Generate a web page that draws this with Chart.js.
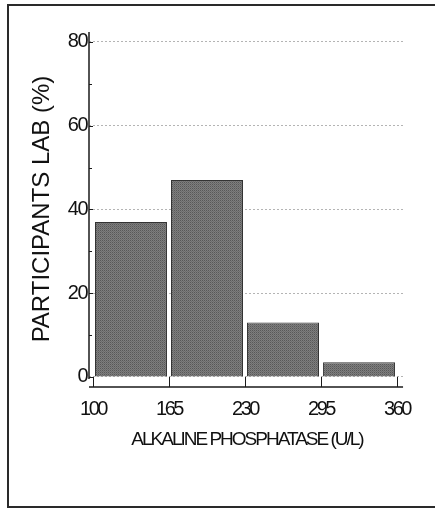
<!DOCTYPE html>
<html>
<head>
<meta charset="utf-8">
<script src="https://cdn.jsdelivr.net/npm/chart.js@4.4.1/dist/chart.umd.min.js"></script>
<style>
  html, body { margin: 0; padding: 0; background: #fff; }
  #wrap { width: 435px; height: 511px; position: relative; }
</style>
</head>
<body>
<div id="wrap"><canvas id="c" width="435" height="511"></canvas></div>
<script>
// ---- data ----
const binEdges = [100, 165, 230, 295, 360];
const percentValues = [37, 47, 13, 3.5];
const xTickValues = [100, 165, 230, 295, 360];
const yTickValues = [0, 20, 40, 60, 80];
const yMinorTickValues = [10, 30, 50, 70];
const xTitle = 'ALKALINE PHOSPHATASE (U/L)';
const yTitle = 'PARTICIPANTS LAB (%)';

const barPoints = percentValues.map((v, i) => ({ x: (binEdges[i] + binEdges[i + 1]) / 2, y: v }));

// stippled grey fill
function makePattern() {
  const p = document.createElement('canvas');
  p.width = 2; p.height = 2;
  const g = p.getContext('2d');
  g.fillStyle = '#7e7e7e'; g.fillRect(0, 0, 2, 2);
  g.fillStyle = '#585858'; g.fillRect(0, 0, 1, 1);
  g.fillStyle = '#6c6c6c'; g.fillRect(1, 1, 1, 1);
  return g.createPattern(p, 'repeat');
}

const sans = "'Liberation Sans', Arial, sans-serif";

// per-scale letter spacing for labels and title
function patchSpacing(scale, labelSpacing, titleSpacing) {
  if (scale._spacingPatched) return;
  scale._spacingPatched = true;
  const dl = scale.drawLabels, dt = scale.drawTitle;
  scale.drawLabels = function (a) {
    const c = this.ctx; c.save(); c.letterSpacing = labelSpacing; dl.call(this, a); c.restore();
  };
  scale.drawTitle = function (a) {
    const c = this.ctx; c.save(); c.letterSpacing = titleSpacing; dt.call(this, a); c.restore();
  };
}

const framePlugin = {
  id: 'frame',
  beforeDraw(chart) {
    const ctx = chart.ctx;
    ctx.save();
    ctx.fillStyle = '#ffffff';
    ctx.fillRect(0, 0, chart.width, chart.height);
    ctx.strokeStyle = '#2a2a2a';
    ctx.lineWidth = 2;
    ctx.strokeRect(8, 5, chart.width + 20, 502);
    ctx.restore();
  }
};

const axesPlugin = {
  id: 'axesLines',
  afterDatasetsDraw(chart) {
    const ctx = chart.ctx;
    const xs = chart.scales.x, ys = chart.scales.y;
    const ca = chart.chartArea;
    const y0 = ys.getPixelForValue(0);
    ctx.save();
    ctx.strokeStyle = '#1a1a1a';
    ctx.lineWidth = 1.5;
    // y axis line
    ctx.beginPath();
    ctx.moveTo(ca.left, ca.top + 1);
    ctx.lineTo(ca.left, y0 + 2);
    ctx.stroke();
    // y ticks (inward)
    ctx.lineWidth = 1;
    yTickValues.forEach(v => {
      const py = Math.round(ys.getPixelForValue(v)) + 0.5;
      ctx.beginPath(); ctx.moveTo(ca.left, py); ctx.lineTo(ca.left + 4, py); ctx.stroke();
    });
    yMinorTickValues.forEach(v => {
      const py = Math.round(ys.getPixelForValue(v)) + 0.5;
      ctx.beginPath(); ctx.moveTo(ca.left, py); ctx.lineTo(ca.left + 3, py); ctx.stroke();
    });
    // x axis line
    ctx.lineWidth = 1.5;
    ctx.beginPath();
    ctx.moveTo(ca.left, ca.bottom);
    ctx.lineTo(xs.getPixelForValue(360) + 6, ca.bottom);
    ctx.stroke();
    // x ticks (upward)
    ctx.lineWidth = 1;
    xTickValues.forEach(v => {
      const px = Math.round(xs.getPixelForValue(v)) + 0.5;
      ctx.beginPath(); ctx.moveTo(px, ca.bottom); ctx.lineTo(px, y0); ctx.stroke();
    });
    ctx.restore();
  }
};

new Chart(document.getElementById('c'), {
  type: 'bar',
  data: {
    datasets: [{
      data: barPoints,
      backgroundColor: makePattern(),
      borderColor: '#333333',
      borderWidth: 1,
      categoryPercentage: 1,
      barPercentage: 0.947
    }]
  },
  options: {
    responsive: false,
    animation: false,
    layout: { padding: { top: 31, right: 30, left: 0, bottom: 0 } },
    plugins: { legend: { display: false }, tooltip: { enabled: false } },
    scales: {
      x: {
        type: 'linear',
        offset: false,
        min: 96.6,
        max: 366.8,
        afterBuildTicks(scale) { scale.ticks = xTickValues.map(v => ({ value: v })); },
        afterFit(scale) { scale.height = 124; patchSpacing(scale, '-2.5px', '-2px'); },
        grid: { display: false, drawTicks: false, offset: false },
        border: { display: false },
        ticks: {
          padding: 10,
          color: '#111111',
          maxRotation: 0,
          autoSkip: false,
          font: { family: sans, size: 20 },
          callback: v => String(v)
        },
        title: {
          display: true,
          text: xTitle,
          color: '#111111',
          font: { family: sans, size: 19 },
          padding: { top: 0, bottom: 60 }
        }
      },
      y: {
        type: 'linear',
        min: -2.4,
        max: 82.6,
        afterBuildTicks(scale) { scale.ticks = yTickValues.map(v => ({ value: v })); },
        afterFit(scale) { scale.width = 89; patchSpacing(scale, '-1.5px', '0px'); },
        grid: {
          drawTicks: false,
          color: '#b4b4b4',
          lineWidth: 1
        },
        border: { display: false, dash: [2, 2] },
        ticks: {
          padding: 2,
          color: '#111111',
          font: { family: sans, size: 20 },
          callback: v => String(v)
        },
        title: {
          display: true,
          text: yTitle,
          color: '#111111',
          font: { family: sans, size: 24 },
          padding: { top: 28, bottom: 0 }
        }
      }
    }
  },
  plugins: [framePlugin, axesPlugin]
});
</script>
</body>
</html>
